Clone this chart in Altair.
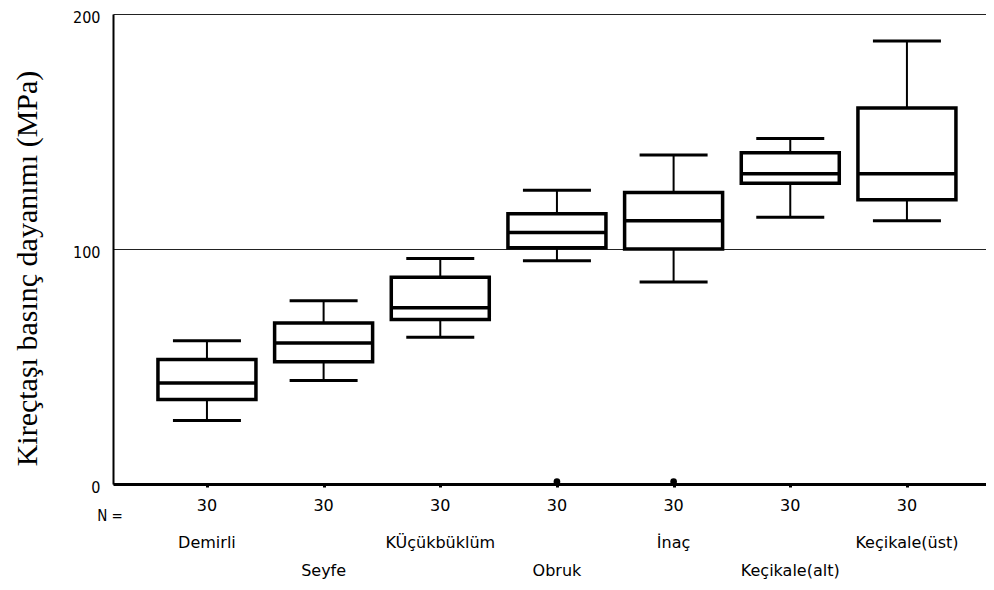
import altair as alt
import pandas as pd

sites = ["Demirli", "Seyfe", "KÜçükbüklüm", "Obruk", "İnaç", "Keçikale(alt)", "Keçikale(üst)"]
lower = [27, 44, 62.5, 95, 86, 113.5, 112]
q1 = [36, 52, 70, 100.5, 100, 128, 121]
median = [43, 60, 75, 107, 112, 132, 132]
q3 = [53, 68.5, 88, 115, 124, 141, 160]
upper = [61, 78, 96, 125, 140, 147, 188.5]
n_values = [30, 30, 30, 30, 30, 30, 30]
outlier_sites = ["Obruk", "İnaç"]
outlier_values = [1, 1]
y_ticks = [0, 100, 200]

df = pd.DataFrame({
    "site": sites, "lower": lower, "q1": q1, "median": median,
    "q3": q3, "upper": upper, "n": n_values,
    "idx": list(range(len(sites))),
})
out_df = pd.DataFrame({"site": outlier_sites, "value": outlier_values})

xscale = alt.Scale(type="point", domain=sites, padding=0.7415, align=0.543)
yscale = alt.Scale(domain=[0, 200], nice=False, zero=False)

x_axis = alt.Axis(title=None, labels=False, domainColor="black", domainWidth=3,
                  ticks=True, tickSize=3, tickWidth=3, tickColor="black", grid=False)
y_axis = alt.Axis(
    title="Kireçtaşı basınç dayanımı (MPa)", values=y_ticks, grid=True,
    gridColor="#222", gridWidth=1, ticks=False, labelPadding=13, labelOffset=3,
    labelFont="DejaVu Sans Condensed", labelFontSize=16, labelColor="black",
    domainColor="black", domainWidth=2,
    titleFont="Liberation Serif", titleFontSize=30, titleFontWeight="normal",
    titleColor="black", titleAngle=-90, titleX=-86, titleY=254,
    titleAlign="center", titleBaseline="middle",
)

base = alt.Chart(df)
X = alt.X("site:N", scale=xscale, axis=x_axis, sort=sites)
Xn = alt.X("site:N", scale=xscale, sort=sites)

whisker = base.mark_rule(color="black", strokeWidth=2).encode(
    x=X,
    y=alt.Y("lower:Q", scale=yscale, axis=y_axis),
    y2="upper:Q",
)
caps_low = base.mark_tick(color="black", thickness=3, size=68, opacity=1).encode(
    x=Xn, y=alt.Y("lower:Q", scale=yscale))
caps_up = base.mark_tick(color="black", thickness=3, size=68, opacity=1).encode(
    x=Xn, y=alt.Y("upper:Q", scale=yscale))
box = base.mark_bar(fill="white", stroke="black", strokeWidth=3.5, size=98, opacity=1).encode(
    x=Xn, y=alt.Y("q1:Q", scale=yscale), y2="q3:Q")
med = base.mark_tick(color="black", thickness=3.5, size=98, opacity=1).encode(
    x=Xn, y=alt.Y("median:Q", scale=yscale))

outliers = alt.Chart(out_df).mark_point(filled=True, color="black", size=45, opacity=1).encode(
    x=Xn, y=alt.Y("value:Q", scale=yscale))

n_text = base.mark_text(font="DejaVu Sans", fontSize=16, color="black", baseline="middle").encode(
    x=Xn, y=alt.value(492), text="n:Q")
name_row1 = base.transform_filter("datum.idx % 2 == 0").mark_text(
    font="DejaVu Sans", fontSize=16, color="black", baseline="middle").encode(
    x=Xn, y=alt.value(529), text="site:N")
name_row2 = base.transform_filter("datum.idx % 2 == 1").mark_text(
    font="DejaVu Sans", fontSize=16, color="black", baseline="middle").encode(
    x=Xn, y=alt.value(557), text="site:N")
n_label = alt.Chart(pd.DataFrame({"t": ["N ="]})).mark_text(
    font="DejaVu Sans Condensed", fontSize=15, color="black", baseline="middle").encode(
    x=alt.value(-3), y=alt.value(502), text="t:N")

chart = alt.layer(
    whisker, caps_low, caps_up, box, med, outliers, n_text, name_row1, name_row2, n_label
).properties(
    width=873, height=470,
    autosize=alt.AutoSizeParams(type="none"),
    padding={"left": 105, "top": 6, "right": 0, "bottom": 96},
    background="white",
).configure_view(stroke=None)

chart.save("out.html", embed_options={"renderer": "svg", "actions": False})
